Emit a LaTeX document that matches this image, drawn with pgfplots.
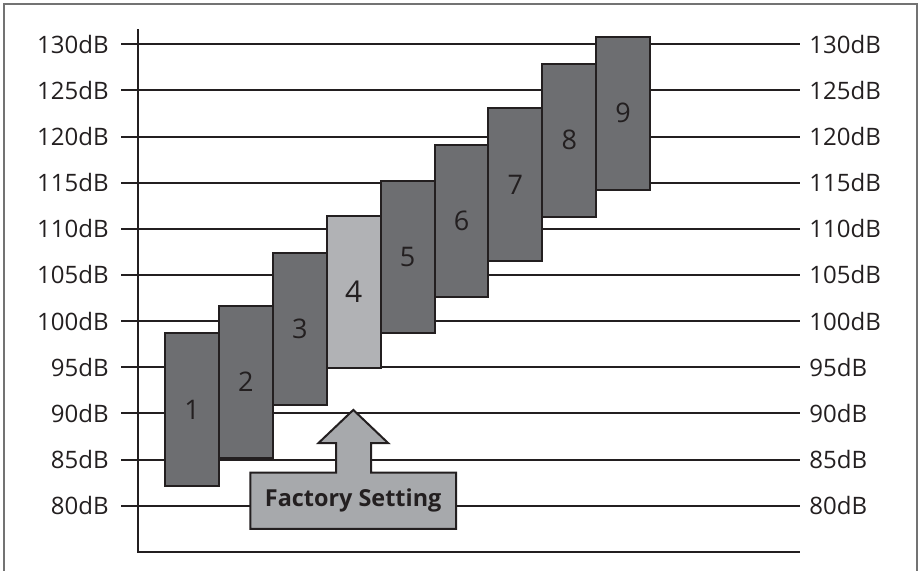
\documentclass[border=0pt]{standalone}
\usepackage{fontspec}
\setmainfont{Open Sans}
\usepackage{pgfplots}
\pgfplotsset{compat=1.18}
\definecolor{ink}{HTML}{231F20}
\definecolor{barDark}{HTML}{6D6E71}
\definecolor{barLight}{HTML}{B1B2B5}
\definecolor{boxGray}{HTML}{A7A9AC}
\pgfplotsset{
  dbaxis/.style={
    scale only axis, width=339.5pt, height=261.3pt,
    at={(60.5pt,9.58pt)}, anchor=south west,
    xmin=-0.317, xmax=12.28, ymin=75, ymax=131.63,
    xtick=\empty,
    ytick={80,85,...,130},
    yticklabels={80dB,85dB,90dB,95dB,100dB,105dB,110dB,115dB,120dB,125dB,130dB},
    axis line style={draw=none}, major tick length=0pt,
    clip=false,
    tick label style={font=\fontsize{12}{14}\selectfont, text=ink},
  },
  level/.style={draw=ink, line width=1pt, fill=barDark},
}
\begin{document}
\begin{tikzpicture}
\path[use as bounding box] (0,0) rectangle (459.5pt,285.5pt);
\draw[black!55, line width=0.7pt] (2pt,0) -- (2pt,283.5pt) -- (458.5pt,283.5pt) -- (458.5pt,0);

\begin{axis}[dbaxis,
  ymajorgrids, grid style={ink, line width=1pt},
  yticklabel style={anchor=east, inner sep=0pt, xshift=-6pt}]

% volume levels: each bar spans lo..hi dB
\addplot[level] coordinates {(0.5,82.15) (1.5,82.15) (1.5,98.69) (0.5,98.69)} -- cycle;
\addplot[level] coordinates {(1.5,85.15) (2.5,85.15) (2.5,101.65) (1.5,101.65)} -- cycle;
\addplot[level] coordinates {(2.5,90.92) (3.5,90.92) (3.5,107.39) (2.5,107.39)} -- cycle;
\addplot[level, fill=barLight] coordinates {(3.5,94.90) (4.5,94.90) (4.5,111.43) (3.5,111.43)} -- cycle;
\addplot[level] coordinates {(4.5,98.75) (5.5,98.75) (5.5,115.22) (4.5,115.22)} -- cycle;
\addplot[level] coordinates {(5.5,102.59) (6.5,102.59) (6.5,119.06) (5.5,119.06)} -- cycle;
\addplot[level] coordinates {(6.5,106.52) (7.5,106.52) (7.5,123.07) (6.5,123.07)} -- cycle;
\addplot[level] coordinates {(7.5,111.32) (8.5,111.32) (8.5,127.87) (7.5,127.87)} -- cycle;
\addplot[level] coordinates {(8.5,114.25) (9.5,114.25) (9.5,130.79) (8.5,130.79)} -- cycle;

\begin{scope}[font=\fontsize{13.5}{15}\selectfont, text=ink]
\node at (axis cs:1,90.42) {1};
\node at (axis cs:2,93.40) {2};
\node at (axis cs:3,99.15) {3};
\node[font=\fontsize{15}{17}\selectfont] at (axis cs:4,103.17) {4};
\node at (axis cs:5,106.98) {5};
\node at (axis cs:6,110.82) {6};
\node at (axis cs:7,114.80) {7};
\node at (axis cs:8,119.60) {8};
\node at (axis cs:9,122.52) {9};
\end{scope}

\draw[ink, line width=1pt] (axis cs:0,131.63) -- (axis cs:0,75) -- (axis cs:12.28,75);

% factory setting callout
\draw[ink, line width=1pt, fill=boxGray]
  (axis cs:2.082,77.49) -- (axis cs:5.898,77.49) -- (axis cs:5.898,83.59)
  -- (axis cs:4.321,83.59) -- (axis cs:4.321,86.77) -- (axis cs:4.642,86.77)
  -- (axis cs:3.993,90.38) -- (axis cs:3.343,86.77) -- (axis cs:3.672,86.77)
  -- (axis cs:3.672,83.59) -- (axis cs:2.082,83.59) -- cycle;
\node[font=\bfseries\fontsize{11.7}{14}\selectfont, text=ink] at (axis cs:3.99,80.54) {Factory Setting};
\end{axis}

\begin{axis}[dbaxis, yticklabel pos=right,
  yticklabel style={anchor=west, inner sep=0pt, xshift=4.5pt}]
\end{axis}
\end{tikzpicture}
\end{document}
